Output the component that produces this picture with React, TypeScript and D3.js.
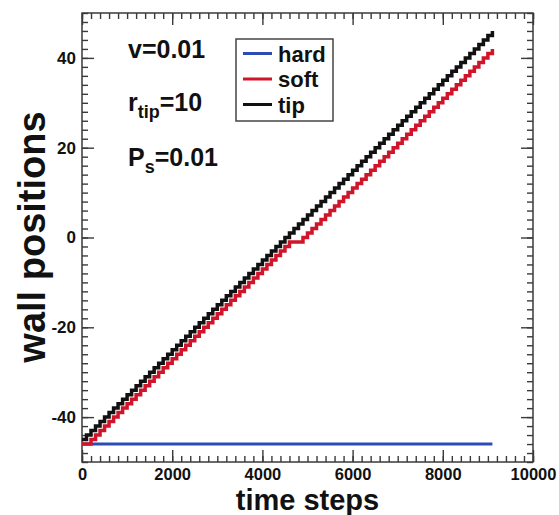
import * as d3 from "d3";
import { useEffect, useRef } from "react";

const timeSteps = [
  0, 100, 200, 300, 400, 500, 600, 700, 800, 900,
  1000, 1100, 1200, 1300, 1400, 1500, 1600, 1700, 1800, 1900,
  2000, 2100, 2200, 2300, 2400, 2500, 2600, 2700, 2800, 2900,
  3000, 3100, 3200, 3300, 3400, 3500, 3600, 3700, 3800, 3900,
  4000, 4100, 4200, 4300, 4400, 4500, 4600, 4700, 4800, 4900,
  5000, 5100, 5200, 5300, 5400, 5500, 5600, 5700, 5800, 5900,
  6000, 6100, 6200, 6300, 6400, 6500, 6600, 6700, 6800, 6900,
  7000, 7100, 7200, 7300, 7400, 7500, 7600, 7700, 7800, 7900,
  8000, 8100, 8200, 8300, 8400, 8500, 8600, 8700, 8800, 8900,
  9000, 9100,
];

const tipPos = [
  -45, -44, -43, -42, -41, -40, -39, -38, -37, -36,
  -35, -34, -33, -32, -31, -30, -29, -28, -27, -26,
  -25, -24, -23, -22, -21, -20, -19, -18, -17, -16,
  -15, -14, -13, -12, -11, -10, -9, -8, -7, -6,
  -5, -4, -3, -2, -1, 0, 1, 2, 3, 4,
  5, 6, 7, 8, 9, 10, 11, 12, 13, 14,
  15, 16, 17, 18, 19, 20, 21, 22, 23, 24,
  25, 26, 27, 28, 29, 30, 31, 32, 33, 34,
  35, 36, 37, 38, 39, 40, 41, 42, 43, 44,
  45, 46,
];

const softPos = [
  -46, -46, -45, -44, -43, -42, -41, -40, -39, -38,
  -37, -36, -35, -34, -33, -32, -31, -30, -29, -28,
  -27, -26, -25, -24, -23, -22, -21, -20, -19, -18,
  -17, -16, -15, -14, -13, -12, -11, -10, -9, -8,
  -7, -6, -5, -4, -3, -2, -1, -1, -1, 0,
  1, 2, 3, 4, 5, 6, 7, 8, 9, 10,
  11, 12, 13, 14, 15, 16, 17, 18, 19, 20,
  21, 22, 23, 24, 25, 26, 27, 28, 29, 30,
  31, 32, 33, 34, 35, 36, 37, 38, 39, 40,
  41, 42,
];

const hardSteps = [0, 9100];
const hardPos = [-46, -46];

const xMajor = [0, 2000, 4000, 6000, 8000, 10000];
const yMajor = [-40, -20, 0, 20, 40];

const legendNames = ["hard", "soft", "tip"];
const legendColors = ["#2a4cb4", "#d0152b", "#111111"];

function App() {
  const svgRef = useRef<SVGSVGElement>(null);

  useEffect(() => {
    const svg = d3.select(svgRef.current);
    svg.selectAll("*").remove();

    const font = "'Liberation Sans', Arial, Helvetica, sans-serif";
    const tickColor = "#3a3a3a";

    const x = d3.scaleLinear().domain([0, 10000]).range([82, 533]);
    const y = d3.scaleLinear().domain([-50, 50]).range([462, 13]);

    const xMinor = d3.range(0, 10001, 200);
    const yMinor = d3.range(-50, 51, 2);

    const styleAxis = (g: any, size = 17) => {
      g.select(".domain").remove();
      g.selectAll("line").attr("stroke", tickColor).attr("stroke-width", 1.4);
      g.selectAll("text")
        .attr("font-family", font)
        .attr("font-weight", "bold")
        .attr("font-size", size)
        .attr("fill", "#111");
    };
    const blank = () => "";
    const plain = (d: any) => String(d);

    // minor ticks, all four sides, pointing inward
    svg.append("g").attr("transform", "translate(0,462)")
      .call(d3.axisBottom(x).tickValues(xMinor).tickSize(-6).tickFormat(blank)).call(styleAxis);
    svg.append("g").attr("transform", "translate(0,13)")
      .call(d3.axisTop(x).tickValues(xMinor).tickSize(-6).tickFormat(blank)).call(styleAxis);
    svg.append("g").attr("transform", "translate(82,0)")
      .call(d3.axisLeft(y).tickValues(yMinor).tickSize(-6).tickFormat(blank)).call(styleAxis);
    svg.append("g").attr("transform", "translate(533,0)")
      .call(d3.axisRight(y).tickValues(yMinor).tickSize(-6).tickFormat(blank)).call(styleAxis);

    // major ticks
    svg.append("g").attr("transform", "translate(0,462)")
      .call(d3.axisBottom(x).tickValues(xMajor).tickSize(-12).tickPadding(6).tickFormat(plain))
      .call((g: any) => styleAxis(g, 16.5));
    svg.append("g").attr("transform", "translate(0,13)")
      .call(d3.axisTop(x).tickValues(xMajor).tickSize(-12).tickFormat(blank)).call(styleAxis);
    svg.append("g").attr("transform", "translate(82,0)")
      .call(d3.axisLeft(y).tickValues(yMajor).tickSize(-12).tickPadding(6).tickFormat(plain))
      .call(styleAxis);
    svg.append("g").attr("transform", "translate(533,0)")
      .call(d3.axisRight(y).tickValues(yMajor).tickSize(-12).tickFormat(blank)).call(styleAxis);

    svg.append("rect")
      .attr("x", 82).attr("y", 13).attr("width", 451).attr("height", 449)
      .attr("fill", "none").attr("stroke", tickColor).attr("stroke-width", 1.5);

    const stepLine = (steps: number[]) =>
      d3.line<number>()
        .x((d, i) => x(steps[i]))
        .y((d) => y(d))
        .curve(d3.curveStepAfter);

    svg.append("path").attr("d", stepLine(hardSteps)(hardPos))
      .attr("fill", "none").attr("stroke", legendColors[0]).attr("stroke-width", 3);
    svg.append("path").attr("d", stepLine(timeSteps)(softPos))
      .attr("fill", "none").attr("stroke", legendColors[1]).attr("stroke-width", 3.5);
    svg.append("path").attr("d", stepLine(timeSteps)(tipPos))
      .attr("fill", "none").attr("stroke", legendColors[2]).attr("stroke-width", 3.5);

    // parameter annotations
    const note = svg.append("g")
      .attr("font-family", font).attr("font-weight", "bold").attr("font-size", 25).attr("fill", "#111");
    note.append("text").attr("x", 128).attr("y", 58).text("v=0.01");
    const r = note.append("text").attr("x", 128).attr("y", 111);
    r.append("tspan").text("r");
    r.append("tspan").attr("font-size", 18).attr("dy", 7).text("tip");
    r.append("tspan").attr("dy", -7).text("=10");
    const p = note.append("text").attr("x", 128).attr("y", 166);
    p.append("tspan").text("P");
    p.append("tspan").attr("font-size", 18).attr("dy", 7).text("s");
    p.append("tspan").attr("dy", -7).text("=0.01");

    // legend
    const leg = svg.append("g");
    leg.append("rect")
      .attr("x", 236).attr("y", 39).attr("width", 97).attr("height", 82)
      .attr("fill", "#fff").attr("stroke", "#444").attr("stroke-width", 1.5);
    legendNames.forEach((name, i) => {
      const ly = 53.5 + i * 25.5;
      leg.append("line")
        .attr("x1", 243).attr("x2", 272).attr("y1", ly).attr("y2", ly)
        .attr("stroke", legendColors[i]).attr("stroke-width", 3);
      leg.append("text")
        .attr("x", 278).attr("y", ly + 8)
        .attr("font-family", font).attr("font-weight", "bold").attr("font-size", 22)
        .attr("fill", "#111").text(name);
    });

    // axis titles
    svg.append("text")
      .attr("x", 307.5).attr("y", 509.5).attr("text-anchor", "middle")
      .attr("font-family", font).attr("font-weight", "bold").attr("font-size", 29)
      .attr("fill", "#111").text("time steps");
    svg.append("text")
      .attr("transform", "translate(45,237) rotate(-90)").attr("text-anchor", "middle")
      .attr("font-family", font).attr("font-weight", "bold").attr("font-size", 38)
      .attr("fill", "#111").text("wall positions");
  }, []);

  return (
    <svg
      ref={svgRef}
      width={559}
      height={515}
      style={{ position: "absolute", left: 0, top: 0, background: "#fff" }}
    />
  );
}

export default App;
